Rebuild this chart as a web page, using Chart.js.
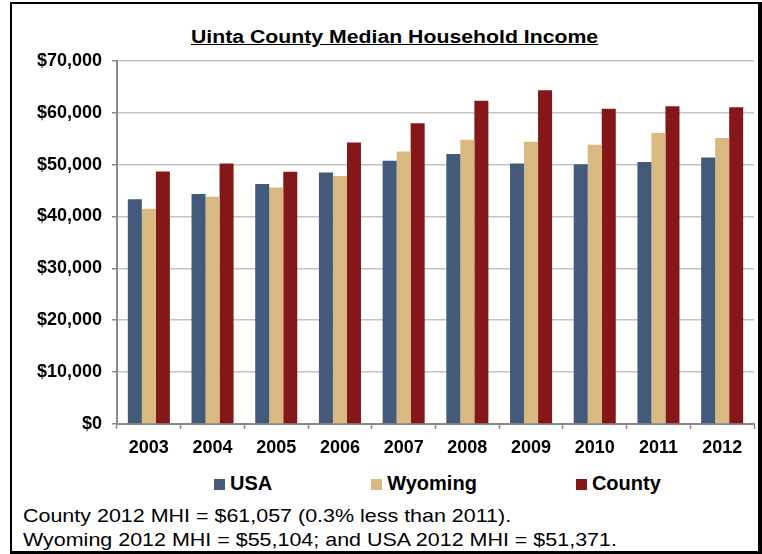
<!DOCTYPE html>
<html>
<head>
<meta charset="utf-8">
<script src="https://cdn.jsdelivr.net/npm/chart.js@4"></script>
<style>
  body { margin: 0; width: 762px; height: 554px; position: relative; overflow: hidden; background: #fff; font-family: "Liberation Sans", Arial, sans-serif; }
  #cadre { position: absolute; left: 10px; top: 2px; width: 752px; height: 552px; box-sizing: border-box; border-style: solid; border-color: #000; border-width: 2px 4px 3px 2px; }
  #titre { position: absolute; left: 191px; top: 28px; font-weight: bold; font-size: 18px; line-height: 18px; text-decoration: underline; white-space: nowrap; color: #000; transform: scaleX(1.18); transform-origin: left top; }
  #zoneGrafico { position: absolute; left: 0; top: 40px; width: 762px; height: 430px; }
  #legenda { position: absolute; left: 214px; top: 473px; display: flex; gap: 99px; font-weight: bold; font-size: 20px; line-height: 20px; color: #000; }
  #legenda .item { display: flex; align-items: center; }
  #legenda .quadrado { width: 11px; height: 11px; margin-right: 5px; margin-top: 2px; }
  #nota { position: absolute; left: 23px; top: 504px; font-size: 18.5px; line-height: 23.5px; color: #000; white-space: nowrap; transform: scaleX(1.16); transform-origin: left top; }
</style>
</head>
<body>
<div id="cadre"></div>
<div id="titre">Uinta County Median Household Income</div>
<div id="zoneGrafico"><canvas id="grafico"></canvas></div>
<div id="legenda"></div>
<div id="nota">County 2012 MHI = $61,057 (0.3% less than 2011).<br>Wyoming 2012 MHI = $55,104; and USA 2012 MHI = $51,371.</div>
<script>
// ============================
// DADOS
// ============================
const anos = ["2003", "2004", "2005", "2006", "2007", "2008", "2009", "2010", "2011", "2012"];
const usa = [43318, 44334, 46242, 48451, 50740, 52029, 50221, 50046, 50502, 51371];
const wyoming = [41500, 43800, 45600, 47800, 52500, 54800, 54400, 53800, 56100, 55104];
const county = [48650, 50200, 48600, 54250, 57950, 62300, 64300, 60750, 61250, 61057];
const nomesSeries = ["USA", "Wyoming", "County"];
const cores = ["#435a7a", "#d8b97f", "#861719"];
const ticksY = [0, 10000, 20000, 30000, 40000, 50000, 60000, 70000];

// ============================
// LEGENDA (HTML)
// ============================
let legenda = document.getElementById("legenda");
nomesSeries.forEach(function (nome, i) {
    legenda.innerHTML += `<div class="item"><div class="quadrado" style="background:${cores[i]}"></div>${nome}</div>`;
});

// ============================
// GRÁFICO
// ============================
const fonte = "'Liberation Sans', Arial, sans-serif";
const corEixo = "#8a8a8a";

new Chart(document.getElementById("grafico"), {
    type: "bar",
    data: {
        labels: anos,
        datasets: [usa, wyoming, county].map(function (valores, i) {
            return {
                label: nomesSeries[i],
                data: valores,
                backgroundColor: cores[i],
                categoryPercentage: 0.66,
                barPercentage: 1.0
            };
        })
    },
    options: {
        responsive: true,
        maintainAspectRatio: false,
        animation: false,
        layout: { padding: { left: 0, right: 8, top: 1, bottom: 0 } },
        plugins: {
            legend: { display: false },
            tooltip: { enabled: false },
            title: { display: false }
        },
        scales: {
            x: {
                grid: { drawOnChartArea: false, drawTicks: true, tickLength: 5, tickColor: corEixo, tickWidth: 1.5 },
                border: { color: corEixo, width: 2 },
                ticks: { color: "#000", font: { family: fonte, size: 18, weight: "bold" }, padding: 8, maxRotation: 0 },
                afterFit: function (s) { s.height = 46; }
            },
            y: {
                min: 0,
                max: ticksY[ticksY.length - 1],
                afterBuildTicks: function (s) { s.ticks = ticksY.map(v => ({ value: v })); },
                grid: { color: "#c4c4c4", lineWidth: 1.5, drawTicks: true, tickLength: 5, tickColor: corEixo },
                border: { color: corEixo, width: 2 },
                ticks: {
                    color: "#000",
                    padding: 10,
                    font: { family: fonte, size: 18, weight: "bold" },
                    callback: function (v) { return "$" + Number(v).toLocaleString("en-US"); }
                },
                afterFit: function (s) { s.width = 117; }
            }
        }
    }
});
</script>
</body>
</html>
